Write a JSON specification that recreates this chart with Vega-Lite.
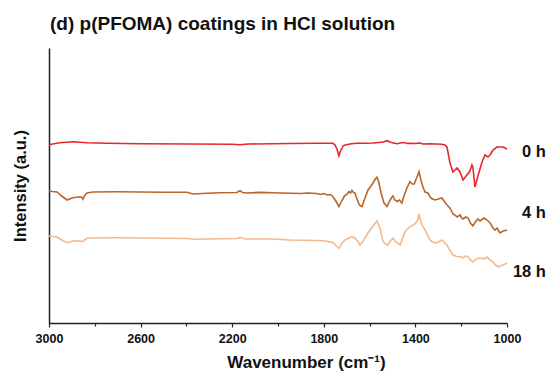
{
  "$schema": "https://vega.github.io/schema/vega-lite/v6.json",
  "width": 458,
  "height": 275,
  "autosize": {"type": "none"},
  "padding": {"left": 49, "top": 48, "right": 45, "bottom": 60},
  "background": "white",
  "config": {
    "font": "Liberation Sans",
    "view": {"stroke": null}
  },
  "title": {
    "text": "(d) p(PFOMA) coatings in HCl solution",
    "anchor": "start",
    "frame": "group",
    "font": "Liberation Sans",
    "fontSize": 19,
    "fontWeight": "bold",
    "color": "#111111",
    "offset": 14,
    "dx": 1
  },
  "datasets": {
    "spectra": [
      {"s":"0 h","w":3000,"i":178},{"s":"0 h","w":2985,"i":179},{"s":"0 h","w":2952,"i":180.3},{"s":"0 h","w":2895,"i":181.3},{"s":"0 h","w":2834,"i":180.3},{"s":"0 h","w":2747,"i":179.7},{"s":"0 h","w":2603,"i":179.3},{"s":"0 h","w":2384,"i":179},{"s":"0 h","w":2200,"i":178.8},{"s":"0 h","w":2166,"i":178.3},{"s":"0 h","w":2130,"i":179},{"s":"0 h","w":2022,"i":179.3},{"s":"0 h","w":1948,"i":179.5},{"s":"0 h","w":1830,"i":179.7},{"s":"0 h","w":1760,"i":179.7},{"s":"0 h","w":1751,"i":178},{"s":"0 h","w":1741,"i":173},{"s":"0 h","w":1734,"i":167},{"s":"0 h","w":1727,"i":172},{"s":"0 h","w":1716,"i":177},{"s":"0 h","w":1707,"i":178},{"s":"0 h","w":1680,"i":179.3},{"s":"0 h","w":1655,"i":179.7},{"s":"0 h","w":1620,"i":179.8},{"s":"0 h","w":1585,"i":180},{"s":"0 h","w":1560,"i":180.5},{"s":"0 h","w":1540,"i":181},{"s":"0 h","w":1524,"i":182.3},{"s":"0 h","w":1515,"i":181.5},{"s":"0 h","w":1505,"i":180.5},{"s":"0 h","w":1490,"i":179.8},{"s":"0 h","w":1480,"i":179.3},{"s":"0 h","w":1465,"i":180},{"s":"0 h","w":1450,"i":180.5},{"s":"0 h","w":1435,"i":179.5},{"s":"0 h","w":1424,"i":179.7},{"s":"0 h","w":1400,"i":179.5},{"s":"0 h","w":1380,"i":180},{"s":"0 h","w":1367,"i":179},{"s":"0 h","w":1340,"i":179.3},{"s":"0 h","w":1306,"i":179},{"s":"0 h","w":1285,"i":178.8},{"s":"0 h","w":1271,"i":178},{"s":"0 h","w":1262,"i":176},{"s":"0 h","w":1249,"i":160},{"s":"0 h","w":1236,"i":151},{"s":"0 h","w":1218,"i":155},{"s":"0 h","w":1205,"i":151},{"s":"0 h","w":1192,"i":143},{"s":"0 h","w":1175,"i":148},{"s":"0 h","w":1162,"i":152},{"s":"0 h","w":1153,"i":158},{"s":"0 h","w":1149,"i":156},{"s":"0 h","w":1140,"i":136},{"s":"0 h","w":1127,"i":147},{"s":"0 h","w":1109,"i":161},{"s":"0 h","w":1096,"i":168},{"s":"0 h","w":1083,"i":166},{"s":"0 h","w":1074,"i":168},{"s":"0 h","w":1061,"i":173},{"s":"0 h","w":1044,"i":176},{"s":"0 h","w":1017,"i":176},{"s":"0 h","w":1000,"i":174},
      {"s":"4 h","w":3000,"i":132.3},{"s":"4 h","w":2985,"i":131.5},{"s":"4 h","w":2965,"i":131},{"s":"4 h","w":2945,"i":127},{"s":"4 h","w":2921,"i":123},{"s":"4 h","w":2905,"i":124.5},{"s":"4 h","w":2895,"i":125.3},{"s":"4 h","w":2865,"i":126.3},{"s":"4 h","w":2856,"i":125.5},{"s":"4 h","w":2852,"i":123.7},{"s":"4 h","w":2845,"i":127},{"s":"4 h","w":2834,"i":130},{"s":"4 h","w":2808,"i":131},{"s":"4 h","w":2700,"i":131.2},{"s":"4 h","w":2603,"i":131},{"s":"4 h","w":2500,"i":130.8},{"s":"4 h","w":2397,"i":130.7},{"s":"4 h","w":2371,"i":129},{"s":"4 h","w":2310,"i":129.7},{"s":"4 h","w":2250,"i":130.2},{"s":"4 h","w":2180,"i":130.5},{"s":"4 h","w":2166,"i":132.3},{"s":"4 h","w":2155,"i":130.5},{"s":"4 h","w":2135,"i":130},{"s":"4 h","w":2080,"i":130.6},{"s":"4 h","w":2022,"i":130.3},{"s":"4 h","w":1948,"i":129.7},{"s":"4 h","w":1900,"i":129.5},{"s":"4 h","w":1870,"i":130},{"s":"4 h","w":1830,"i":129.5},{"s":"4 h","w":1815,"i":128.5},{"s":"4 h","w":1800,"i":129.5},{"s":"4 h","w":1785,"i":128},{"s":"4 h","w":1770,"i":128.5},{"s":"4 h","w":1760,"i":126.3},{"s":"4 h","w":1745,"i":121},{"s":"4 h","w":1734,"i":116.5},{"s":"4 h","w":1722,"i":122},{"s":"4 h","w":1710,"i":127},{"s":"4 h","w":1698,"i":129},{"s":"4 h","w":1690,"i":131.5},{"s":"4 h","w":1683,"i":130},{"s":"4 h","w":1677,"i":132.5},{"s":"4 h","w":1670,"i":130.5},{"s":"4 h","w":1664,"i":130},{"s":"4 h","w":1655,"i":124},{"s":"4 h","w":1645,"i":118},{"s":"4 h","w":1633,"i":116.5},{"s":"4 h","w":1625,"i":122},{"s":"4 h","w":1615,"i":128},{"s":"4 h","w":1607,"i":133},{"s":"4 h","w":1597,"i":136},{"s":"4 h","w":1585,"i":140},{"s":"4 h","w":1575,"i":144},{"s":"4 h","w":1568,"i":145.7},{"s":"4 h","w":1560,"i":141},{"s":"4 h","w":1550,"i":130},{"s":"4 h","w":1537,"i":120},{"s":"4 h","w":1524,"i":116.5},{"s":"4 h","w":1515,"i":121},{"s":"4 h","w":1505,"i":125},{"s":"4 h","w":1498,"i":127},{"s":"4 h","w":1490,"i":123},{"s":"4 h","w":1480,"i":121.5},{"s":"4 h","w":1470,"i":123},{"s":"4 h","w":1459,"i":120},{"s":"4 h","w":1450,"i":127},{"s":"4 h","w":1437,"i":135},{"s":"4 h","w":1424,"i":141.3},{"s":"4 h","w":1414,"i":139},{"s":"4 h","w":1405,"i":139},{"s":"4 h","w":1395,"i":145},{"s":"4 h","w":1384,"i":151.3},{"s":"4 h","w":1376,"i":143},{"s":"4 h","w":1367,"i":136},{"s":"4 h","w":1358,"i":131},{"s":"4 h","w":1345,"i":130},{"s":"4 h","w":1336,"i":126},{"s":"4 h","w":1325,"i":124},{"s":"4 h","w":1314,"i":123},{"s":"4 h","w":1300,"i":124},{"s":"4 h","w":1284,"i":125},{"s":"4 h","w":1272,"i":121},{"s":"4 h","w":1262,"i":118},{"s":"4 h","w":1249,"i":115},{"s":"4 h","w":1240,"i":111},{"s":"4 h","w":1236,"i":109},{"s":"4 h","w":1228,"i":108},{"s":"4 h","w":1218,"i":106},{"s":"4 h","w":1205,"i":108},{"s":"4 h","w":1198,"i":105},{"s":"4 h","w":1192,"i":104},{"s":"4 h","w":1180,"i":106},{"s":"4 h","w":1170,"i":105},{"s":"4 h","w":1160,"i":100},{"s":"4 h","w":1149,"i":97},{"s":"4 h","w":1138,"i":101},{"s":"4 h","w":1127,"i":104},{"s":"4 h","w":1118,"i":102},{"s":"4 h","w":1109,"i":103.5},{"s":"4 h","w":1100,"i":105},{"s":"4 h","w":1087,"i":103},{"s":"4 h","w":1074,"i":100},{"s":"4 h","w":1066,"i":97},{"s":"4 h","w":1061,"i":95},{"s":"4 h","w":1052,"i":93},{"s":"4 h","w":1044,"i":95},{"s":"4 h","w":1031,"i":90},{"s":"4 h","w":1017,"i":92},{"s":"4 h","w":1000,"i":93},
      {"s":"18 h","w":3000,"i":87},{"s":"18 h","w":2985,"i":86.5},{"s":"18 h","w":2965,"i":86},{"s":"18 h","w":2945,"i":83},{"s":"18 h","w":2921,"i":80.3},{"s":"18 h","w":2895,"i":82},{"s":"18 h","w":2865,"i":82.3},{"s":"18 h","w":2852,"i":81.3},{"s":"18 h","w":2845,"i":83},{"s":"18 h","w":2834,"i":84.7},{"s":"18 h","w":2808,"i":85},{"s":"18 h","w":2700,"i":85.2},{"s":"18 h","w":2603,"i":85},{"s":"18 h","w":2500,"i":84.8},{"s":"18 h","w":2397,"i":84.5},{"s":"18 h","w":2371,"i":83.7},{"s":"18 h","w":2310,"i":84},{"s":"18 h","w":2250,"i":84.3},{"s":"18 h","w":2180,"i":84.5},{"s":"18 h","w":2166,"i":85.7},{"s":"18 h","w":2150,"i":84.5},{"s":"18 h","w":2135,"i":84},{"s":"18 h","w":2022,"i":84},{"s":"18 h","w":1948,"i":83},{"s":"18 h","w":1830,"i":82.5},{"s":"18 h","w":1790,"i":82},{"s":"18 h","w":1760,"i":80.3},{"s":"18 h","w":1745,"i":77},{"s":"18 h","w":1734,"i":74.7},{"s":"18 h","w":1720,"i":80},{"s":"18 h","w":1707,"i":83},{"s":"18 h","w":1690,"i":85},{"s":"18 h","w":1677,"i":86.3},{"s":"18 h","w":1664,"i":85},{"s":"18 h","w":1650,"i":81},{"s":"18 h","w":1642,"i":78},{"s":"18 h","w":1625,"i":83},{"s":"18 h","w":1607,"i":90},{"s":"18 h","w":1595,"i":94},{"s":"18 h","w":1585,"i":97},{"s":"18 h","w":1568,"i":102},{"s":"18 h","w":1555,"i":95},{"s":"18 h","w":1541,"i":81.3},{"s":"18 h","w":1530,"i":79},{"s":"18 h","w":1520,"i":78},{"s":"18 h","w":1510,"i":82},{"s":"18 h","w":1498,"i":84.7},{"s":"18 h","w":1485,"i":81},{"s":"18 h","w":1467,"i":78},{"s":"18 h","w":1455,"i":85},{"s":"18 h","w":1445,"i":91.3},{"s":"18 h","w":1435,"i":94},{"s":"18 h","w":1424,"i":96.3},{"s":"18 h","w":1410,"i":98},{"s":"18 h","w":1397,"i":100},{"s":"18 h","w":1390,"i":103},{"s":"18 h","w":1384,"i":109},{"s":"18 h","w":1376,"i":101},{"s":"18 h","w":1367,"i":96.3},{"s":"18 h","w":1358,"i":93},{"s":"18 h","w":1345,"i":87},{"s":"18 h","w":1336,"i":83},{"s":"18 h","w":1325,"i":81},{"s":"18 h","w":1314,"i":80},{"s":"18 h","w":1300,"i":81},{"s":"18 h","w":1284,"i":83},{"s":"18 h","w":1272,"i":80},{"s":"18 h","w":1262,"i":78},{"s":"18 h","w":1250,"i":73},{"s":"18 h","w":1236,"i":68},{"s":"18 h","w":1225,"i":67},{"s":"18 h","w":1214,"i":66},{"s":"18 h","w":1200,"i":66.5},{"s":"18 h","w":1192,"i":65},{"s":"18 h","w":1180,"i":67},{"s":"18 h","w":1170,"i":66},{"s":"18 h","w":1160,"i":63},{"s":"18 h","w":1149,"i":61},{"s":"18 h","w":1135,"i":64},{"s":"18 h","w":1118,"i":65},{"s":"18 h","w":1100,"i":64},{"s":"18 h","w":1087,"i":66},{"s":"18 h","w":1075,"i":63},{"s":"18 h","w":1061,"i":61},{"s":"18 h","w":1050,"i":58},{"s":"18 h","w":1039,"i":56},{"s":"18 h","w":1030,"i":57},{"s":"18 h","w":1017,"i":58},{"s":"18 h","w":1000,"i":60}
    ],
    "labels": [
      {"s":"0 h","w":830,"i":171},
      {"s":"4 h","w":830,"i":110},
      {"s":"18 h","w":830,"i":51}
    ]
  },
  "layer": [
    {
      "data": {"name": "spectra"},
      "mark": {"type": "line", "strokeWidth": 1.6, "interpolate": "linear"},
      "encoding": {
        "x": {
          "field": "w",
          "type": "quantitative",
          "scale": {"domain": [3000, 1000], "nice": false, "zero": false},
          "axis": {
            "title": "Wavenumber (cm⁻¹)",
            "titleFont": "Liberation Sans",
            "titleFontSize": 17,
            "titleFontWeight": "bold",
            "titleColor": "#111111",
            "titlePadding": 10,
            "titleX": 257,
            "values": [3000,2900,2800,2700,2600,2500,2400,2300,2200,2100,2000,1900,1800,1700,1600,1500,1400,1300,1200,1100,1000],
            "labelExpr": "(3000 - datum.value) % 400 == 0 ? datum.label : ''",
            "format": "d",
            "labelFont": "Liberation Sans",
            "labelFontSize": 12.5,
            "labelFontWeight": "bold",
            "labelColor": "#111111",
            "labelPadding": 5,
            "labelFlush": false,
            "labelOverlap": false,
            "grid": false,
            "domainColor": "#222222",
            "domainWidth": 1.5,
            "tickColor": "#222222",
            "tickWidth": 1.2,
            "tickSize": {"condition": {"test": "(3000 - datum.value) % 400 == 0", "value": 4}, "value": 3}
          }
        },
        "y": {
          "field": "i",
          "type": "quantitative",
          "scale": {"domain": [0, 275], "nice": false, "zero": false},
          "axis": {
            "title": "Intensity (a.u.)",
            "titleFont": "Liberation Sans",
            "titleFontSize": 16.5,
            "titleFontWeight": "bold",
            "titleColor": "#111111",
            "titlePadding": 21,
            "labels": false,
            "ticks": false,
            "grid": false,
            "domainColor": "#222222",
            "domainWidth": 1.5
          }
        },
        "color": {
          "field": "s",
          "type": "nominal",
          "scale": {"domain": ["0 h", "4 h", "18 h"], "range": ["#E8262C", "#B9652A", "#F2B98F"]},
          "legend": null
        },
        "order": {"field": "w", "sort": "descending"}
      }
    },
    {
      "data": {"name": "labels"},
      "mark": {"type": "text", "align": "right", "baseline": "middle", "font": "Liberation Sans", "fontSize": 16.5, "fontWeight": "bold", "color": "#111111"},
      "encoding": {
        "x": {"field": "w", "type": "quantitative"},
        "y": {"field": "i", "type": "quantitative"},
        "text": {"field": "s"}
      }
    }
  ]
}
